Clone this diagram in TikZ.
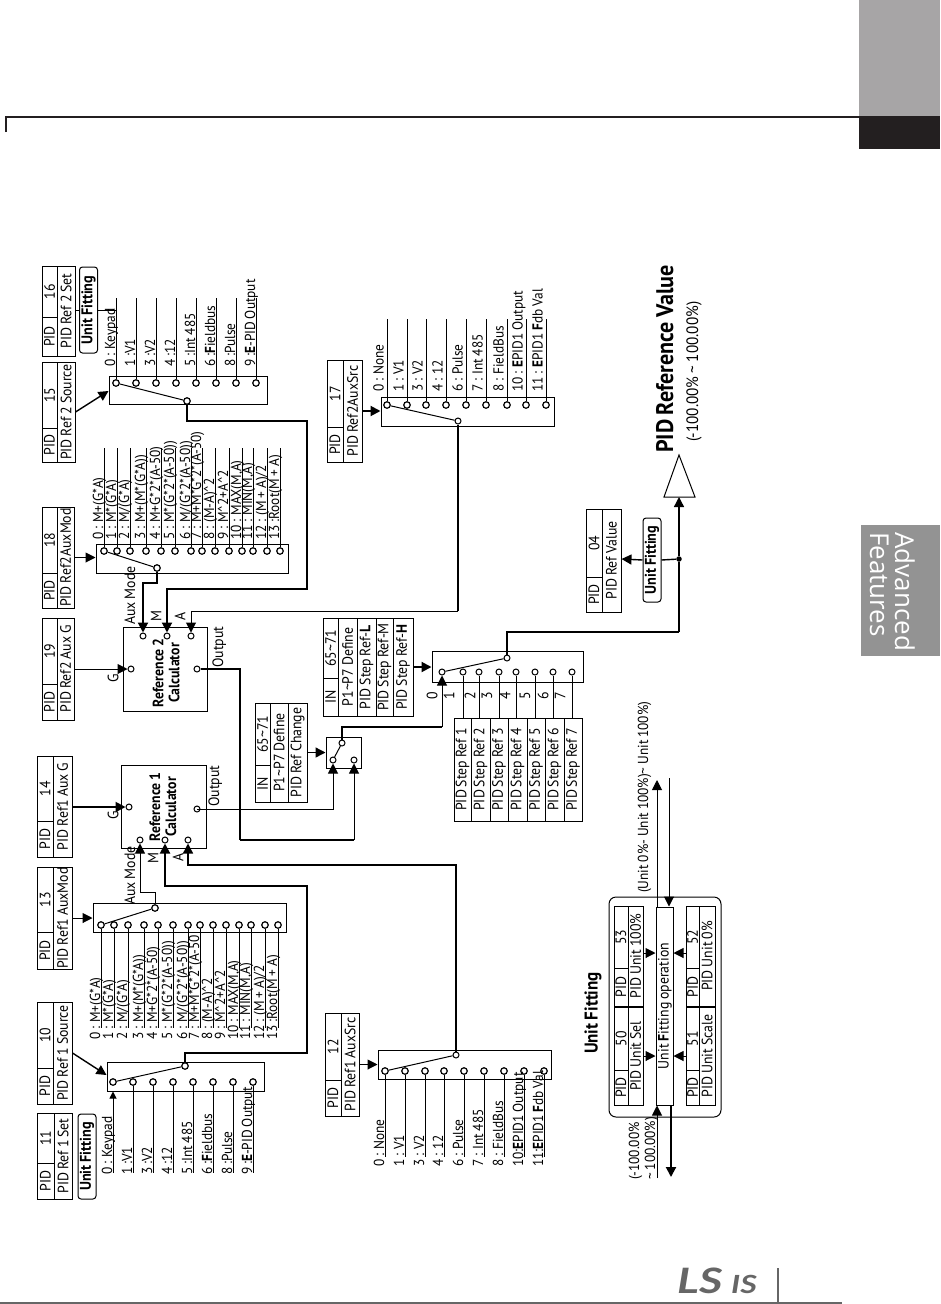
\documentclass[tikz,border=0pt]{standalone}
\usepackage{fontspec}
\setmainfont[FakeStretch=0.92,WordSpace=0.8]{PT Sans}
\newfontfamily\tabfont{Open Sans}
\newfontfamily\logofont[FakeStretch=1.3]{Lato}
\usetikzlibrary{arrows.meta,calc}
\definecolor{ink}{HTML}{231F20}
\definecolor{tabgray}{HTML}{A7A5A6}
\definecolor{sidegray}{HTML}{939393}
\definecolor{logogray}{HTML}{666666}
\newcommand{\fsz}[1]{\fontsize{#1}{#1}\selectfont}
\newcommand{\tl}{\textasciitilde}
\newcommand{\ca}{\textasciicircum}
\tikzset{
  thinln/.style={draw=black,line width=1pt},
  thickln/.style={draw=black,line width=2pt},
  midln/.style={draw=black,line width=1.4pt},
  arr/.style={-{Triangle[length=10pt,width=10pt]}},
  arrsm/.style={-{Triangle[length=7pt,width=7pt]}},
  term/.style={circle,draw=black,fill=white,line width=1.2pt,inner sep=0pt,minimum size=6.5pt},
  termsm/.style={circle,draw=black,fill=white,line width=1pt,inner sep=0pt,minimum size=6pt},
  celltext/.style={rotate=90,inner sep=0pt,font=\fsz{15}},
  lab/.style={rotate=90,anchor=base west,inner sep=0pt,font=\fsz{14.5}},
  ptlab/.style={rotate=90,inner sep=0pt,font=\fsz{15}},
  fitbox/.style={draw=black,line width=1pt,rounded corners=3pt,inner sep=0pt},
  boldt/.style={rotate=90,inner sep=0pt,font=\fsz{15.5}\bfseries},
}
% name, x1, y1, x2, y2, xdiv, ydiv, number, caption
\newcommand{\pidtab}[9]{%
  \pgfmathsetmacro{\pw}{#4-#2}\pgfmathsetmacro{\ph}{#5-#3}
  \node[draw=black,line width=1pt,inner sep=0pt,minimum width=\pw pt,minimum height=\ph pt] (#1) at ({(#2+#4)/2},{(#3+#5)/2}) {};
  \draw[thinln] (#6,#3) -- (#6,#5);
  \draw[thinln] (#2,#7) -- (#6,#7);
  \node[celltext] (#1a) at ({(#2+#6)/2},{(#7+#5)/2}) {PID};
  \node[celltext] (#1b) at ({(#2+#6)/2},{(#3+#7)/2}) {#8};
  \node[celltext] (#1c) at ({(#6+#4)/2},{(#3+#5)/2}) {#9};
}
% name, x1, y1, x2, y2
\newcommand{\bx}[5]{%
  \pgfmathsetmacro{\pw}{#4-#2}\pgfmathsetmacro{\ph}{#5-#3}
  \node[draw=black,line width=1pt,inner sep=0pt,minimum width=\pw pt,minimum height=\ph pt] (#1) at ({(#2+#4)/2},{(#3+#5)/2}) {};
}
\begin{document}
\begin{tikzpicture}[x=1pt,y=-1pt]
\useasboundingbox (0,0) rectangle (940,1304);
% page furniture
\fill[tabgray] (859,0) rectangle (940,116);
\fill[ink] (859,116) rectangle (940,149);
\draw[ink,line width=2pt] (5.5,132) -- (5.5,117) -- (859,117);
\fill[sidegray] (861,525) rectangle (940,656);
\node[rotate=-90,anchor=base west,inner sep=0pt,text=white] (advtxt) at (895,532) {\tabfont\fsz{26}Advanced};
\node[rotate=-90,anchor=base west,inner sep=0pt,text=white] (feattxt) at (870,532) {\tabfont\fsz{26}Features};
\draw[logogray,line width=2pt] (0,1302.5) -- (842,1302.5);
\draw[logogray,line width=1.5pt] (778,1268) -- (778,1302);
\node[anchor=base west,inner sep=0pt,text=logogray] (logols) at (677,1293) {\logofont\fsz{35}\bfseries\itshape LS};
\node[anchor=base west,inner sep=0pt,text=logogray] (logois) at (731,1293) {\logofont\fsz{25}\bfseries\itshape IS};

% ---------- parameter tables
\pidtab{pxi}{37}{1113}{72}{1199}{54}{1163}{11}{PID Ref 1 Set}
\pidtab{px}{37}{1002}{72}{1104}{53}{1068}{10}{PID Ref 1 Source}
\pidtab{pxiii}{37}{867}{72}{969}{53}{932}{13}{PID Ref1 AuxMod}
\pidtab{pxiv}{37}{756}{72}{857}{53}{821}{14}{PID Ref1 Aux G}
\pidtab{pxix}{42}{618}{74}{720}{57}{684}{19}{PID Ref2 Aux G}
\pidtab{pxviii}{42}{507}{74}{608}{57}{573}{18}{PID Ref2AuxMod}
\pidtab{pxv}{42}{362}{75}{462}{57}{428}{15}{PID Ref 2 Source}
\pidtab{pxvi}{42}{266}{75}{356}{57}{317}{16}{PID Ref 2 Set}
\pidtab{pxii}{325}{1013}{359}{1116}{341}{1080}{12}{PID Ref1 AuxSrc}
\pidtab{pxvii}{327}{360}{362}{462}{343}{427}{17}{PID Ref2AuxSrc}
\pidtab{piv}{586}{509}{621}{612}{602}{577}{04}{PID Ref Value}
\pidtab{pliii}{614}{906}{643}{1006}{628}{968}{53}{PID Unit 100\%}
\pidtab{pl}{614}{1007}{643}{1105}{628}{1070}{50}{PID Unit Sel}
\pidtab{plii}{686}{906}{715}{1006}{699}{968}{52}{PID Unit 0\%}
\pidtab{pli}{686}{1007}{715}{1105}{699}{1070}{51}{PID Unit Scale}

% Unit Fitting tags
\node[fitbox,minimum width=18pt,minimum height=86pt] (ufa) at (88.5,310) {};
\node[boldt] (ufat) at (ufa.center) {Unit Fitting};
\node[fitbox,minimum width=18pt,minimum height=85pt] (ufb) at (87,1156.5) {};
\node[boldt] (ufbt) at (ufb.center) {Unit Fitting};
\node[fitbox,minimum width=18pt,minimum height=84pt] (ufc) at (652,560) {};
\node[boldt] (ufct) at (ufc.center) {Unit Fitting};

% ---------- Ref 1 source switch
\bx{sa}{107}{1062}{264}{1091}
\node[term] (sap) at (185,1066) {};
\foreach \k/\x/\t in {0/113/{0 : Keypad},1/133/{1 :V1},2/153/{3 :V2},3/173/{4 :12},4/193/{5 :Int 485},5/213/{6 :\textbf{F}ieldbus},6/233/{8 :Pulse},7/253/{9 :\textbf{E}-PID Output}}{
  \node[term] (sat\k) at (\x,1082) {};
  \coordinate (sae\k) at (\x,1173);
  \ifnum\k>0 \draw[thinln] (sat\k) -- (sae\k); \fi
  \node[lab] (sal\k) at (\x-1,1175) {\t};
}
\draw[thinln] (sat0) -- (sap);
\draw[thinln,arrsm] (sae0) -- (sat0 |- sa.south);

% ---------- Ref 1 aux mode switch
\bx{sb}{93}{903}{286}{932}
\node[term] (sbp) at (155,908) {};
\foreach \k/\x/\t in {0/101/{0 : M+(G*A)},1/114/{1 : M*(G*A)},2/128/{2 : M/(G*A)},3/144/{3 : M+(M*(G*A))},4/158/{4 : M+G*2*(A-50)},5/173/{5 : M*(G*2*(A-50))},6/188/{6 : M/(G*2*(A-50))},7/200/{7 : M+M*G*2*(A-50},8/213/{8 : (M-A)\ca 2},9/226/{9 : M\ca 2+A\ca 2},10/239/{10 : MAX(M,A)},11/251/{11 : MIN(M,A)},12/265/{12 : (M + A)/2},13/278/{13 :Root(M + A)}}{
  \node[term] (sbt\k) at (\x,925) {};
  \coordinate (sbe\k) at (\x,1028);
  \draw[thinln] (sbt\k) -- (sbe\k);
  \node[lab] (sbl\k) at (\x-1,1040) {\t};
}
\draw[thinln] (sbt0) -- (sbp);

% ---------- Ref 2 source switch
\bx{sc}{109}{376}{267}{404}
\node[term] (scp) at (187,401) {};
\foreach \k/\x/\t in {0/116/{0 : Keypad},1/136/{1 :V1},2/156/{3 :V2},3/176/{4 :12},4/196/{5 :Int 485},5/216/{6 :\textbf{F}ieldbus},6/236/{8 :Pulse},7/256/{9 :\textbf{E}-PID Output}}{
  \node[term] (sct\k) at (\x,383) {};
  \coordinate (sce\k) at (\x,298);
  \draw[thinln] (sct\k) -- (sce\k);
  \node[lab] (scl\k) at (\x-1,367) {\t};
}
\draw[thinln] (sct0) -- (scp);
\coordinate (ufaj) at (sct0 |- ufa.east);

% ---------- Ref 2 aux mode switch
\bx{sd}{96}{544}{288}{573}
\node[term] (sdp) at (157,568) {};
\foreach \k/\x/\t in {0/104/{0 : M+(G*A)},1/117/{1 : M*(G*A)},2/130/{2 : M/(G*A)},3/146/{3 : M+(M*(G*A))},4/161/{4 : M+G*2*(A-50)},5/175/{5 : M*(G*2*(A-50))},6/191/{6 : M/(G*2*(A-50))},7/202/{7 : M+M*G*2*(A-50)},8/215/{8 : (M-A)\ca 2},9/229/{9 : M\ca 2+A\ca 2},10/242/{10 : MAX(M,A)},11/253/{11 : MIN(M,A)},12/267/{12 : (M + A)/2},13/280/{13 :Root(M + A)}}{
  \node[term] (sdt\k) at (\x,551) {};
  \coordinate (sde\k) at (\x,448);
  \draw[thinln] (sdt\k) -- (sde\k);
  \node[lab] (sdl\k) at (\x-1,540) {\t};
}
\draw[thinln] (sdt0) -- (sdp);

% ---------- Ref 1 aux source switch
\bx{se}{378}{1050}{551}{1079}
\node[termsm] (sep) at (456,1055) {};
\foreach \k/\x/\t in {0/385/{0 : None},1/405/{1 : V1},2/425/{3 : V2},3/444/{4 : 12},4/464/{6 : Pulse},5/484/{7 : Int 485},6/504/{8 : FieldBus},7/524/{10:\textbf{E}PID1 Output},8/544/{11:\textbf{E}PID1 \textbf{F}db Val}}{
  \node[term] (set\k) at (\x,1071) {};
  \coordinate (see\k) at (\x,1157);
  \draw[thinln] (set\k) -- (see\k);
  \node[lab] (sel\k) at (\x-1,1167) {\t};
}
\draw[thinln] (set0) -- (sep);

% ---------- Ref 2 aux source switch
\bx{sf}{381}{397}{554}{426}
\node[termsm] (sfp) at (458,421) {};
\foreach \k/\x/\t in {0/387/{0 : None},1/407/{1 : V1},2/426/{3 : V2},3/446/{4 : 12},4/466/{6 : Pulse},5/486/{7 : Int 485},6/507/{8 : FieldBus},7/526/{10 : \textbf{E}PID1 Output},8/546/{11 : \textbf{E}PID1 \textbf{F}db Val}}{
  \node[term] (sft\k) at (\x,405) {};
  \coordinate (sfe\k) at (\x,319);
  \draw[thinln] (sft\k) -- (sfe\k);
  \node[lab] (sfl\k) at (\x-3.5,392) {\t};
}
\draw[thinln] (sft0) -- (sfp);

% ---------- calculators
\bx{ca}{121}{765}{206}{848}
\node[rotate=90,inner sep=0pt,align=center,font=\fsz{15}\bfseries] (catxt) at (163,807) {Reference 1\\[1pt]Calculator};
\node[termsm] (cag) at (129,807) {};
\node[termsm] (cax) at (140,840) {};
\node[termsm] (cam) at (165,840) {};
\node[termsm] (caa) at (188,840) {};
\node[termsm] (cao) at (197,809) {};
\node[ptlab,anchor=base west] (calx) at (135,905) {Aux Mode};
\node[ptlab] (calg) at (113,815) {G};
\node[ptlab] (calm) at (153,858) {M};
\node[ptlab] (cala) at (178,857) {A};
\node[ptlab,anchor=base west] (calo) at (219,807) {Output};

\bx{cb}{123}{627}{207}{711}
\node[rotate=90,inner sep=0pt,align=center,font=\fsz{15}\bfseries] (cbtxt) at (166,673) {Reference 2\\[1pt]Calculator};
\node[termsm] (cbg) at (131,669) {};
\node[termsm] (cbx) at (143,636) {};
\node[termsm] (cbm) at (167,636) {};
\node[termsm] (cba) at (191,636) {};
\node[termsm] (cbo) at (197,669) {};
\node[ptlab,anchor=base west] (cblx) at (135,625) {Aux Mode};
\node[ptlab] (cblg) at (113,678) {G};
\node[ptlab] (cblm) at (156,616) {M};
\node[ptlab] (cbla) at (180,616) {A};
\node[ptlab,anchor=base west] (cblo) at (223,668) {Output};

% ---------- selector (Ref change)
\bx{sg}{326}{737}{361}{768}
\node[termsm] (sgp) at (342,743) {};
\node[termsm] (sga) at (333,760) {};
\node[termsm] (sgb) at (354,760) {};
\draw[thinln] (sga) -- (sgp);
\bx{tg}{255}{703}{307}{802}
\draw[thinln] (270,703) -- (270,802);
\draw[thinln] (288,703) -- (288,802);
\draw[thinln] (255,765) -- (270,765);
\node[celltext] (tgi) at (262.5,783.5) {IN};
\node[celltext] (tgn) at (262.5,734) {65\tl 71};
\node[celltext] (tgd) at (279,752.5) {P1\tl P7 Define};
\node[celltext] (tgc) at (297.5,752.5) {PID Ref Change};

% ---------- step switch
\bx{sh}{432}{651}{583}{682}
\node[termsm] (shp) at (507,658) {};
\foreach \k/\x/\lx in {0/442/432,1/463/449,2/479/470,3/499/487,4/516/505,5/535/525,6/553/543,7/572/560}{
  \node[termsm] (sht\k) at (\x,672) {};
  \node[ptlab] (shl\k) at (\lx,696) {\k};
}
\draw[thinln] (sht0) -- (shp);

\bx{ti}{323}{618}{413}{716}
\foreach \x in {338,357,376,393}{\draw[thinln] (\x,618) -- (\x,716);}
\draw[thinln] (323,678) -- (338,678);
\node[celltext] (tii) at (330.5,697) {IN};
\node[celltext] (tin) at (330.5,648) {65\tl 71};
\node[celltext] (tid) at (347.5,667) {P1\tl P7 Define};
\node[celltext] (til) at (366.5,667) {PID Step Ref-\textbf{L}};
\node[celltext] (tim) at (384.5,667) {PID Step Ref-M};
\node[celltext] (tih) at (403,667) {PID Step Ref-\textbf{H}};

\bx{tj}{454}{718}{582}{821}
\foreach \x in {471,490,508,527,545,564}{\draw[thinln] (\x,718) -- (\x,821);}
\foreach \k/\x in {1/462.5,2/480.5,3/499,4/517.5,5/536,6/554.5,7/573}{
  \node[celltext] (tjt\k) at (\x,769.5) {PID Step Ref \k};
}
\foreach \k in {1,...,7}{
  \draw[thinln] (sht\k) -- (sht\k |- tj.north);
}

% ---------- output triangle
\coordinate (triA) at (679,455);
\coordinate (triB) at (664,497);
\coordinate (triC) at (695,497);
\coordinate (triM) at (679,497);
\draw[thinln,line join=miter] (triA) -- (triB) -- (triC) -- cycle;
\node[rotate=90,anchor=base west,inner sep=0pt,font=\fsz{24}\bfseries] (prv) at (673,453) {PID Reference Value};
\node[rotate=90,anchor=base west,inner sep=0pt,font=\fsz{16.5}] (prvr) at (698,442) {(-100.00\% \tl\ 100.00\%)};
\node[circle,fill=black,inner sep=0pt,minimum size=5.5pt] (dot) at (679,559) {};

% ---------- unit fitting block
\node[ptlab,font=\fsz{18.5}\bfseries] (uft) at (593,1013) {Unit Fitting};
\draw[thinln,rounded corners=7pt] (609,897) rectangle (721,1117);
\bx{ufo}{656}{907}{673}{1105}
\node[celltext] (ufot) at (665,1006) {Unit \textbf{F}itting operation};
\coordinate (ua) at (ufo.west |- 0,953);
\coordinate (ub) at (ufo.west |- 0,1056);
\coordinate (uc) at (ufo.east |- 0,953);
\coordinate (ud) at (ufo.east |- 0,1056);
\draw[thinln,arr] (pliii.east |- ua) -- (ua);
\draw[thinln,arr] (pl.east |- ub) -- (ub);
\draw[thinln,arr] (plii.west |- uc) -- (uc);
\draw[thinln,arr] (pli.west |- ud) -- (ud);
\coordinate (uout) at (657,780);
\coordinate (uin) at (669,778);
\coordinate (uinb) at (657,1178);
\coordinate (uoutb) at (671,1177);
\draw[thinln,arr] (uout |- ufo.north) -- (uout);
\draw[thinln,arr] (uin) -- (uin |- ufo.north);
\draw[thinln,arr] (uinb) -- (uinb |- ufo.south);
\draw[thickln,arr] (uoutb |- ufo.south) -- (uoutb);
\node[lab] (ulab) at (648,893) {(Unit 0\%- Unit 100\%)\tl\ Unit 100\%)};
\node[lab] (ulc) at (639,1180) {(-100.00\%};
\node[lab] (uld) at (655,1180) {\tl\ 100.00\%)};

% ---------- connectors
\draw[midln,arr] (px.east |- 0,1053) -- (sa.west |- 0,1075);
\draw[thinln,arr] (pxiii.east) -- (pxiii.east -| sb.west);
\draw[midln,arr] (pxv.east |- 0,412) -- (sc.west |- 0,391);
\draw[thinln,arr] (pxviii.east) -- (pxviii.east -| sd.west);
\draw[thinln,arr] (pxii.east) -- (pxii.east -| se.west);
\draw[thickln,arr] (pxvii.east) -- (pxvii.east -| sf.west);
\draw[midln,arr] (tg.east) -- (tg.east -| sg.west);
\draw[thickln,arr] (ti.east) -- (ti.east -| sh.west);
\draw[thickln,arr] (pxiv.east |- cag) -- (cag);
\draw[thinln,arr] (pxix.east |- cbg) -- (cbg);
% Ref 1 calc inputs
\draw[thinln,arr] (sbp) -- (sbp |- 0,892) -- (cax |- 0,892) -- (cax);
\draw[thickln,arr] (sap) -- (sap |- 0,1053) -- (307,1053) -- (307,886) -- (cam |- 0,886) -- (cam);
\draw[midln,arr] (sep) -- (sep |- 0,865) -- (caa |- 0,865) -- (caa);
% Ref 2 calc inputs
\draw[thickln,arr] (sdp) -- (sdp |- 0,583) -- (cbx |- 0,583) -- (cbx);
\draw[thickln,arr] (scp) -- (scp |- 0,421) -- (307,421) -- (307,589) -- (cbm |- 0,589) -- (cbm);
\draw[thickln] (sfp) -- (sfp |- 0,611);
\draw[thinln,arr] (sfp |- 0,611) -- (cba |- 0,611) -- (cba);
% outputs to selector
\draw[thinln,arr] (cao) -- (cao |- 0,809) -- (sga |- 0,809) -- (sga);
\draw[midln] (cbo) -- (240,669) -- (240,840);
\draw[thickln] (240,840) -- (354,840);
\draw[thinln,arr] (354,840) -- (sgb);
% selector to step switch
\draw[thickln] (sgp) -- (sgp |- 0,727) -- (sht0 |- 0,727);
\draw[thinln,arr] (sht0 |- 0,727) -- (sht0);
% step switch to output
\draw[thickln] (shp) -- (shp |- 0,632) -- (dot |- 0,632);
\draw[midln] (dot |- 0,632) -- (dot);
\draw[midln,arr] (dot) -- (triM);
\draw[midln] (dot) -- (ufc.east);
\draw[midln,arr] (ufc.west) -- (piv.east |- dot);
\draw[thinln] (pxvi.east |- ufa.west) -- (ufa.west);
\draw[thinln] (ufa.east) -- (ufaj);
\end{tikzpicture}
\end{document}
